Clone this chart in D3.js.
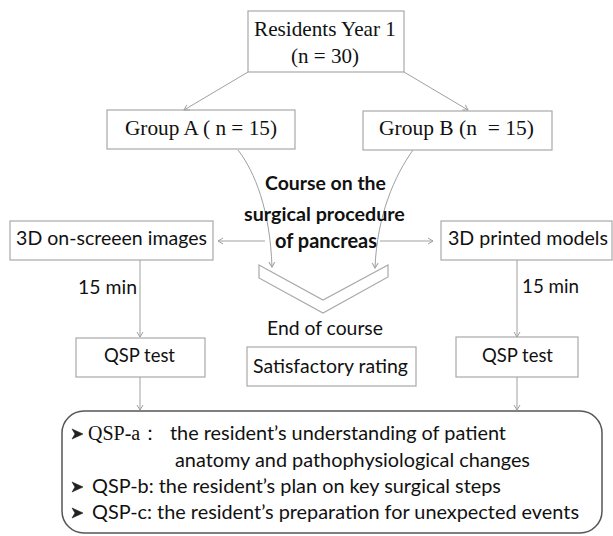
<!DOCTYPE html>
<html lang="en">
<head>
<meta charset="UTF-8">
<script src="https://d3js.org/d3.v7.min.js"></script>
<title>Study flow</title>
<style>
  body { margin: 0; background: #fff; }
  text { white-space: pre; }
</style>
</head>
<body>
<div id="flow"></div>
<script>
// labels
var topLines = ["Residents Year 1", "(n = 30)"];
var groups = ["Group A ( n = 15)", "Group B (n  = 15)"];
var modalities = ["3D on-screeen images", "3D printed models"];
var courseLines = ["Course on the", "surgical procedure", "of pancreas"];
var intervals = ["15 min", "15 min"];
var tests = ["QSP test", "QSP test"];
var endLabel = "End of course";
var ratingLabel = "Satisfactory rating";
var qspTags = ["QSP-a：", "QSP-b:", "QSP-c:"];
var qspTexts = [
  ["the resident’s understanding of patient", "anatomy and pathophysiological changes"],
  ["the resident’s plan on key surgical steps"],
  ["the resident’s preparation for unexpected events"]
];

var W = 613, H = 536;
var serif = "'Liberation Serif', 'Times New Roman', serif";
var sans = "Lato, 'Open Sans', sans-serif";
var boxStroke = "#a9a9a9", lineStroke = "#a0a0a0";

var svg = d3.select("#flow").append("svg")
  .attr("width", W).attr("height", H);

// arrow head
svg.append("defs").append("marker")
  .attr("id", "head")
  .attr("markerUnits", "userSpaceOnUse")
  .attr("viewBox", "-6 -4 7 8")
  .attr("refX", 0).attr("refY", 0)
  .attr("markerWidth", 7).attr("markerHeight", 8)
  .attr("orient", "auto")
  .append("path")
  .attr("d", "M-5,-3L0,0L-5,3")
  .attr("fill", "none")
  .attr("stroke", lineStroke)
  .attr("stroke-width", 1);

// boxes
var boxes = [
  [248, 11, 156, 61], [107, 110, 188, 39], [363, 111, 189, 39],
  [10, 221, 203, 39], [441, 221, 171, 39],
  [76, 338, 129, 39], [456, 337, 122, 40], [247, 347, 169, 39]
];
svg.selectAll("rect.box").data(boxes).enter().append("rect")
  .attr("class", "box")
  .attr("x", function(d) { return d[0]; })
  .attr("y", function(d) { return d[1]; })
  .attr("width", function(d) { return d[2]; })
  .attr("height", function(d) { return d[3]; })
  .attr("fill", "#fff")
  .attr("stroke", boxStroke)
  .attr("stroke-width", 1.2);

svg.append("rect")
  .attr("x", 62).attr("y", 411).attr("width", 540).attr("height", 122)
  .attr("rx", 22).attr("ry", 22)
  .attr("fill", "#fff").attr("stroke", "#555").attr("stroke-width", 1.5);

// chevron
svg.append("path")
  .attr("d", "M259,265L323,300L388,265L388,277L323,313L259,278Z")
  .attr("fill", "#fff").attr("stroke", boxStroke).attr("stroke-width", 1.2);

// straight arrows
var arrows = [
  [248, 72, 184, 110], [404, 72, 468, 110],
  [265, 241, 218, 241], [380, 241, 433, 241],
  [140, 260, 140, 337], [517, 260, 517, 337],
  [140, 377, 140, 410], [517, 377, 517, 410]
];
svg.selectAll("line.arrow").data(arrows).enter().append("line")
  .attr("class", "arrow")
  .attr("x1", function(d) { return d[0]; })
  .attr("y1", function(d) { return d[1]; })
  .attr("x2", function(d) { return d[2]; })
  .attr("y2", function(d) { return d[3]; })
  .attr("stroke", lineStroke).attr("stroke-width", 1)
  .attr("marker-end", "url(#head)");

// curved arrows into the course
var curves = [
  "M238,150C255,172 270,210 272,267",
  "M413,150C395,175 377,215 375,268"
];
svg.selectAll("path.curve").data(curves).enter().append("path")
  .attr("class", "curve")
  .attr("d", function(d) { return d; })
  .attr("fill", "none").attr("stroke", lineStroke).attr("stroke-width", 1)
  .attr("marker-end", "url(#head)");

// box / flow text, each fitted to its width in the reference
var labels = [
  {t: topLines[0], x: 325, y: 36, w: 142, f: serif},
  {t: topLines[1], x: 325, y: 63, w: 68, f: serif},
  {t: groups[0], x: 201, y: 135, w: 152, f: serif},
  {t: groups[1], x: 456.5, y: 135, w: 155, f: serif},
  {t: modalities[0], x: 111.5, y: 245, w: 191, f: sans},
  {t: modalities[1], x: 528, y: 245, w: 160, f: sans},
  {t: courseLines[0], x: 325.5, y: 190, w: 121, f: sans, b: true},
  {t: courseLines[1], x: 324.5, y: 221, w: 161, f: sans, b: true},
  {t: courseLines[2], x: 326, y: 248, w: 102, f: sans, b: true},
  {t: intervals[0], x: 107.5, y: 294, w: 59, f: sans},
  {t: intervals[1], x: 550.5, y: 293, w: 57, f: sans},
  {t: endLabel, x: 325, y: 335, w: 116, f: sans},
  {t: tests[0], x: 139.5, y: 362, w: 71, f: sans},
  {t: tests[1], x: 517.5, y: 362, w: 71, f: sans},
  {t: ratingLabel, x: 330.5, y: 373, w: 155, f: sans}
];

svg.selectAll("text.lbl").data(labels).enter().append("text")
  .attr("class", "lbl")
  .attr("x", function(d) { return d.x; })
  .attr("y", function(d) { return d.y; })
  .attr("text-anchor", "middle")
  .attr("font-family", function(d) { return d.f; })
  .attr("font-weight", function(d) { return d.b ? "bold" : "normal"; })
  .attr("font-size", 18)
  .attr("fill", "#111")
  .text(function(d) { return d.t; })
  .each(function(d) {
    var len = this.getComputedTextLength();
    if (len > 0) d3.select(this).attr("font-size", (18 * d.w / len).toFixed(2));
  });

// QSP list, one shared size fitted from the longest line
var listLines = [
  {t: qspTexts[0][0], x: 170, y: 440},
  {t: qspTexts[0][1], x: 175, y: 467},
  {t: qspTags[1] + " " + qspTexts[1][0], x: 92, y: 493},
  {t: qspTags[2] + " " + qspTexts[2][0], x: 92, y: 519}
];
var list = svg.selectAll("text.item").data(listLines).enter().append("text")
  .attr("class", "item")
  .attr("x", function(d) { return d.x; })
  .attr("y", function(d) { return d.y; })
  .attr("font-family", sans)
  .attr("font-size", 18)
  .attr("fill", "#111")
  .text(function(d) { return d.t; });
var longest = list.nodes()[3].getComputedTextLength();
if (longest > 0) list.attr("font-size", (18 * 487 / longest).toFixed(2));

svg.append("text")
  .attr("x", 88).attr("y", 440)
  .attr("font-family", serif)
  .attr("font-size", 20)
  .attr("fill", "#111")
  .text(qspTags[0]);

// arrowhead bullets
var bulletY = [440, 493, 519];
svg.selectAll("path.bullet").data(bulletY).enter().append("path")
  .attr("class", "bullet")
  .attr("transform", function(d) { return "translate(72," + (d - 6) + ")"; })
  .attr("d", "M0,-5L11,0L0,5L3,0Z")
  .attr("fill", "#222")
  .attr("stroke", "#222")
  .attr("stroke-width", 0.6)
  .attr("stroke-linejoin", "round");
</script>
</body>
</html>
